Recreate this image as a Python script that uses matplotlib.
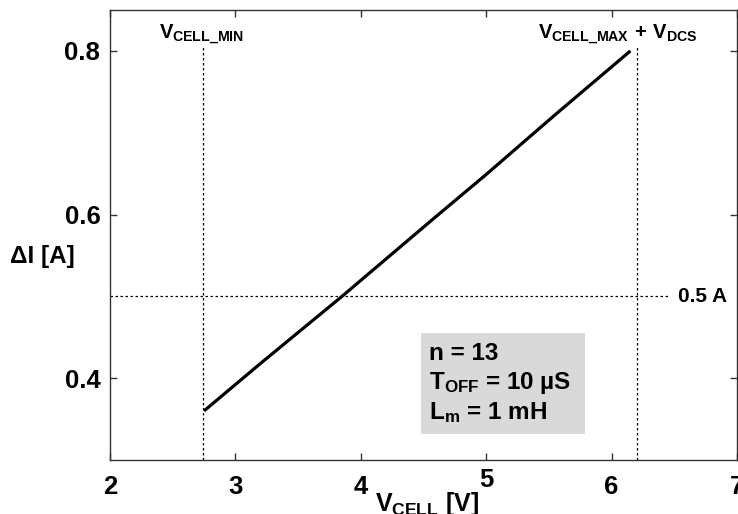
import matplotlib
matplotlib.use("Agg")
import matplotlib.pyplot as plt
from matplotlib.patches import Rectangle
from matplotlib.transforms import ScaledTranslation

plt.rcParams['font.family'] = ['Liberation Sans', 'DejaVu Sans']
plt.rcParams['font.weight'] = 'bold'
plt.rcParams['mathtext.fontset'] = 'custom'
plt.rcParams['mathtext.rm'] = 'Liberation Sans:bold'
plt.rcParams['mathtext.it'] = 'Liberation Sans:bold'
plt.rcParams['mathtext.bf'] = 'Liberation Sans:bold'
plt.rcParams['mathtext.sf'] = 'Liberation Sans:bold'

# Data
vcell = [2.75, 3.2, 3.85, 4.58, 5.0, 5.55, 6.15]
delta_i = [0.36, 0.418, 0.50, 0.595, 0.649, 0.722, 0.80]
vcell_min = 2.74
vcell_max_dcs = 6.2
i_limit = 0.5
x_ticks = [2, 3, 4, 5, 6, 7]
y_ticks = [0.4, 0.6, 0.8]

fig = plt.figure(figsize=(7.38, 5.14), dpi=100)
ax = fig.add_axes([110/738, 54/514, 627/738, 450/514])

ax.plot(vcell, delta_i, color='black', lw=2.3, solid_capstyle='butt')

ax.plot([vcell_min, vcell_min], [0.3, 0.806], color='black', lw=0.9, ls=(0, (2, 2)))
ax.plot([vcell_max_dcs, vcell_max_dcs], [0.3, 0.806], color='black', lw=0.9, ls=(0, (2, 2)))
ax.plot([2, 6.46], [i_limit, i_limit], color='black', lw=0.9, ls=(0, (2, 2)))

ax.set_xlim(2, 7)
ax.set_ylim(0.3, 0.85)
ax.set_xticks(x_ticks)
ax.set_yticks(y_ticks)
ax.set_xticklabels([str(t) for t in x_ticks])
ax.set_yticklabels([f"{t:.1f}" for t in y_ticks])
ax.tick_params(direction='in', length=5, width=1, top=True, right=True,
               labelsize=18.5, colors='#333333', labelcolor='black')
ax.tick_params(axis='x', pad=11)
ax.tick_params(axis='y', pad=7)
for s in ax.spines.values():
    s.set_linewidth(1.0)
    s.set_color('#333333')

# the '5' label sits slightly higher in the reference
for lab in ax.get_xticklabels():
    if lab.get_text() == '5':
        lab.set_transform(lab.get_transform() + ScaledTranslation(0, 7/100, fig.dpi_scale_trans))

ax.text(2.39, 0.815, r'$V_{CELL\_MIN}$', fontsize=14.5, ha='left', va='baseline')
ax.text(5.41, 0.815, r'$V_{CELL\_MAX}\,+\,V_{DCS}$', fontsize=14.5, ha='left', va='baseline')
ax.text(6.53, 0.5, '0.5 A', fontsize=15, ha='left', va='center')

ax.add_patch(Rectangle((4.48, 0.3315), 1.304, 0.1235, facecolor='#d9d9d9',
                       edgecolor='none', zorder=1))
ax.text(4.544, 0.3935, 'n = 13\nT$_{OFF}$ = 10 µS\nL$_{m}$ = 1 mH', fontsize=17.5,
        ha='left', va='center', linespacing=1.25, zorder=2)

fig.text(10/738, 1 - 256/514, 'ΔI [A]', fontsize=17.5, ha='left', va='center')
fig.text(375/738, 1 - 511/514, r'$V_{CELL}$ [V]', fontsize=18, ha='left', va='baseline')

fig.savefig('out.png', dpi=100)
